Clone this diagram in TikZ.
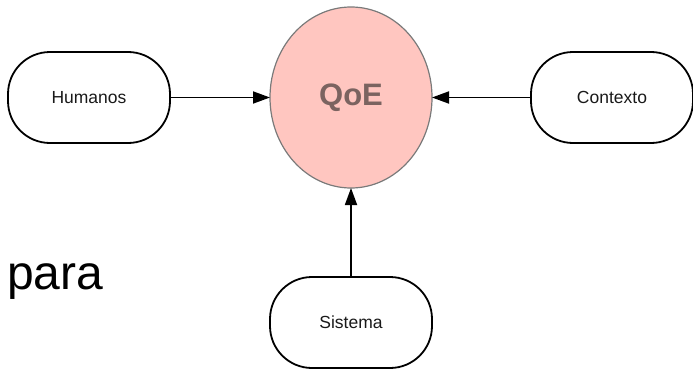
\documentclass[tikz,border=0pt]{standalone}
\usepackage{fontspec}
\setmainfont{Liberation Sans}
\usetikzlibrary{positioning,shapes.geometric,arrows.meta}

\definecolor{qoefill}{HTML}{FFC6C0}
\definecolor{qoeline}{HTML}{7A7A7A}
\definecolor{qoetext}{HTML}{7B6360}

\tikzset{
  factor/.style={draw, line width=1.8pt, rounded corners=42pt,
    minimum width=162pt, minimum height=91pt, inner sep=0pt, outer sep=0pt,
    font=\fontsize{17.5}{21}\selectfont, text=black!90},
  quality/.style={ellipse, draw=qoeline, fill=qoefill, line width=1.2pt,
    minimum width=162pt, minimum height=181pt, inner sep=0pt, outer sep=0pt,
    font=\bfseries\fontsize{31}{36}\selectfont, text=qoetext},
  influence/.style={-{Triangle[length=17pt,width=12pt]}, line width=1.8pt}
}

\begin{document}
\begin{tikzpicture}[x=1pt,y=1pt]
  \useasboundingbox (0,0) rectangle (693,-369);

  % --- Central node ---
  \node[quality] (qoe) at (351,-97.5) {QoE};

  % --- Factors around it ---
  \node[factor] (humanos) [left=100pt of qoe] {Humanos};
  \node[factor] (contexto) [right=99pt of qoe] {Contexto};
  \node[factor] (sistema) [below=89pt of qoe] {Sistema};

  % --- Loose text on the left ---
  \node[anchor=base west, inner sep=0pt, font=\fontsize{48}{56}\selectfont]
    (para) at (7,-289) {para};

  % --- Arrows into QoE ---
  \draw[influence] (humanos) -- (qoe);
  \draw[influence] (contexto) -- (qoe);
  \draw[influence] (sistema) -- (qoe);
\end{tikzpicture}
\end{document}
